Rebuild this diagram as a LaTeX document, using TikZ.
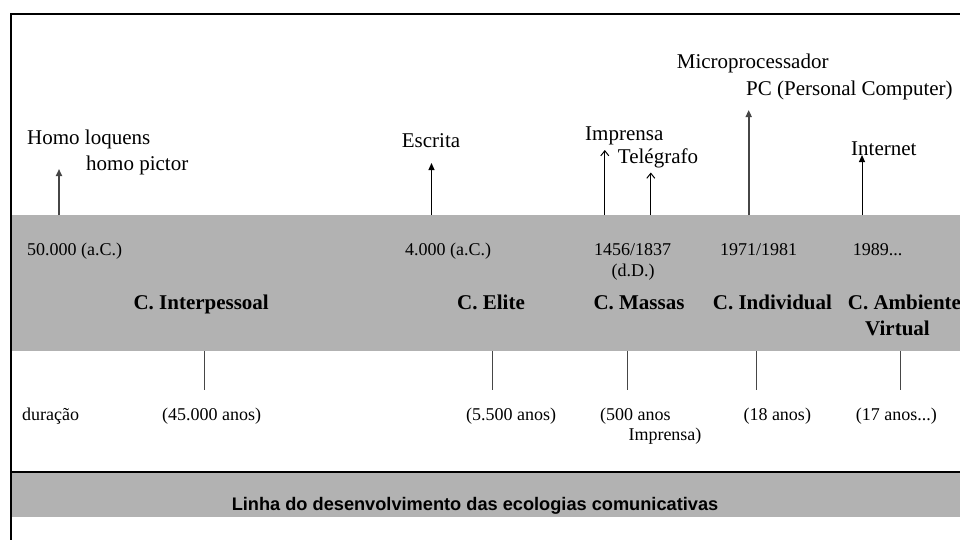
\documentclass[tikz,border=0pt]{standalone}
\usepackage{fontspec}
\setmainfont{Liberation Serif}
\newfontfamily\arialfont{Liberation Sans}
\usetikzlibrary{arrows.meta}
\definecolor{bandgray}{RGB}{178,178,178}
\definecolor{darkline}{RGB}{70,70,70}
\begin{document}
\begin{tikzpicture}[x=1pt,y=-1pt,
  lab/.style={inner sep=0pt,anchor=base west,font=\fontsize{21}{24}\selectfont},
  sml/.style={inner sep=0pt,anchor=base west,font=\fontsize{18}{20}\selectfont},
  era/.style={inner sep=0pt,anchor=base west,font=\fontsize{21}{24}\selectfont\bfseries},
  solidarrow/.style={line width=1pt,-{Triangle[length=7pt,width=6pt]}},
  grayarrow/.style={line width=1.6pt,darkline,-{Triangle[length=7pt,width=6pt]}},
  openarrow/.style={line width=1pt,-{Straight Barb[length=5pt,width=8pt]}},
  tick/.style={line width=0.9pt,darkline},
  frameline/.style={line width=2pt}]
\useasboundingbox (0,0) rectangle (960,539);
% bands
\fill[bandgray] (11,215) rectangle (962,351);
\fill[bandgray] (11,472) rectangle (962,517);
\draw[frameline] (11,472) -- (962,472);
\draw[frameline] (11,541) -- (11,13.7) -- (962,13.7);
% top labels
\node[lab] (hl) at (27,144) {Homo loquens};
\node[lab] (hp) at (86,170) {homo pictor};
\node[lab] (es) at (401.7,147) {Escrita};
\node[lab] (im) at (585,140) {Imprensa};
\node[lab] (te) at (617.7,163.5) {Telégrafo};
\node[lab] (mi) at (676.7,68.5) {Microprocessador};
\node[lab] (pc) at (746,95) {PC (Personal Computer)};
\node[lab] (in) at (851,155) {Internet};
% arrows
\coordinate (b1) at (59,215);   \coordinate (t1) at (59,169);
\coordinate (b2) at (431.5,215); \coordinate (t2) at (431.5,163);
\coordinate (b3) at (604.8,215); \coordinate (t3) at (604.8,150);
\coordinate (b4) at (650.8,215); \coordinate (t4) at (650.8,172.5);
\coordinate (b5) at (748.7,215); \coordinate (t5) at (748.7,110);
\coordinate (b6) at (862,215);   \coordinate (t6) at (862,155);
\draw[grayarrow] (b1) -- (t1);
\draw[solidarrow] (b2) -- (t2);
\draw[openarrow] (b3) -- (t3);
\draw[openarrow] (b4) -- (t4);
\draw[grayarrow] (b5) -- (t5);
\draw[solidarrow] (b6) -- (t6);
% dates
\node[sml] (d1) at (27,255.7) {50.000 (a.C.)};
\node[sml] (d2) at (405,255.7) {4.000 (a.C.)};
\node[sml] (d3) at (594,255.7) {1456/1837};
\node[sml] (d3b) at (611.5,276.7) {(d.D.)};
\node[sml] (d4) at (720,255.7) {1971/1981};
\node[sml] (d5) at (852.7,255.7) {1989...};
% eras
\node[era] (e1) at (133.3,309.3) {C. Interpessoal};
\node[era] (e2) at (457,309.3) {C. Elite};
\node[era] (e3) at (593.3,309.3) {C. Massas};
\node[era] (e4) at (712.7,309.3) {C. Individual};
\node[era] (e5) at (847.7,309.3) {C. Ambiente};
\node[era,anchor=base] (e5b) at (897.5,335) {Virtual};
% ticks
\coordinate (k1a) at (204.3,351); \coordinate (k1b) at (204.3,389.5);
\coordinate (k2a) at (492,351);   \coordinate (k2b) at (492,389.5);
\coordinate (k3a) at (627.7,351); \coordinate (k3b) at (627.7,389.5);
\coordinate (k4a) at (756.3,351); \coordinate (k4b) at (756.3,389.5);
\coordinate (k5a) at (900,351);   \coordinate (k5b) at (900,389.5);
\draw[tick] (k1a) -- (k1b);
\draw[tick] (k2a) -- (k2b);
\draw[tick] (k3a) -- (k3b);
\draw[tick] (k4a) -- (k4b);
\draw[tick] (k5a) -- (k5b);
% durations
\node[sml] (u0) at (22,420) {duração};
\node[sml] (u1) at (162,420) {(45.000 anos)};
\node[sml] (u2) at (466,420) {(5.500 anos)};
\node[sml] (u3) at (600,420) {(500 anos};
\node[sml] (u3b) at (628.3,440) {Imprensa)};
\node[sml] (u4) at (743.3,420) {(18 anos)};
\node[sml] (u5) at (855.7,420) {(17 anos...)};
% title
\node[inner sep=0pt,anchor=base,font=\arialfont\fontsize{18.2}{20}\selectfont\bfseries] (title) at (475,510) {Linha do desenvolvimento das ecologias comunicativas};
\end{tikzpicture}
\end{document}
